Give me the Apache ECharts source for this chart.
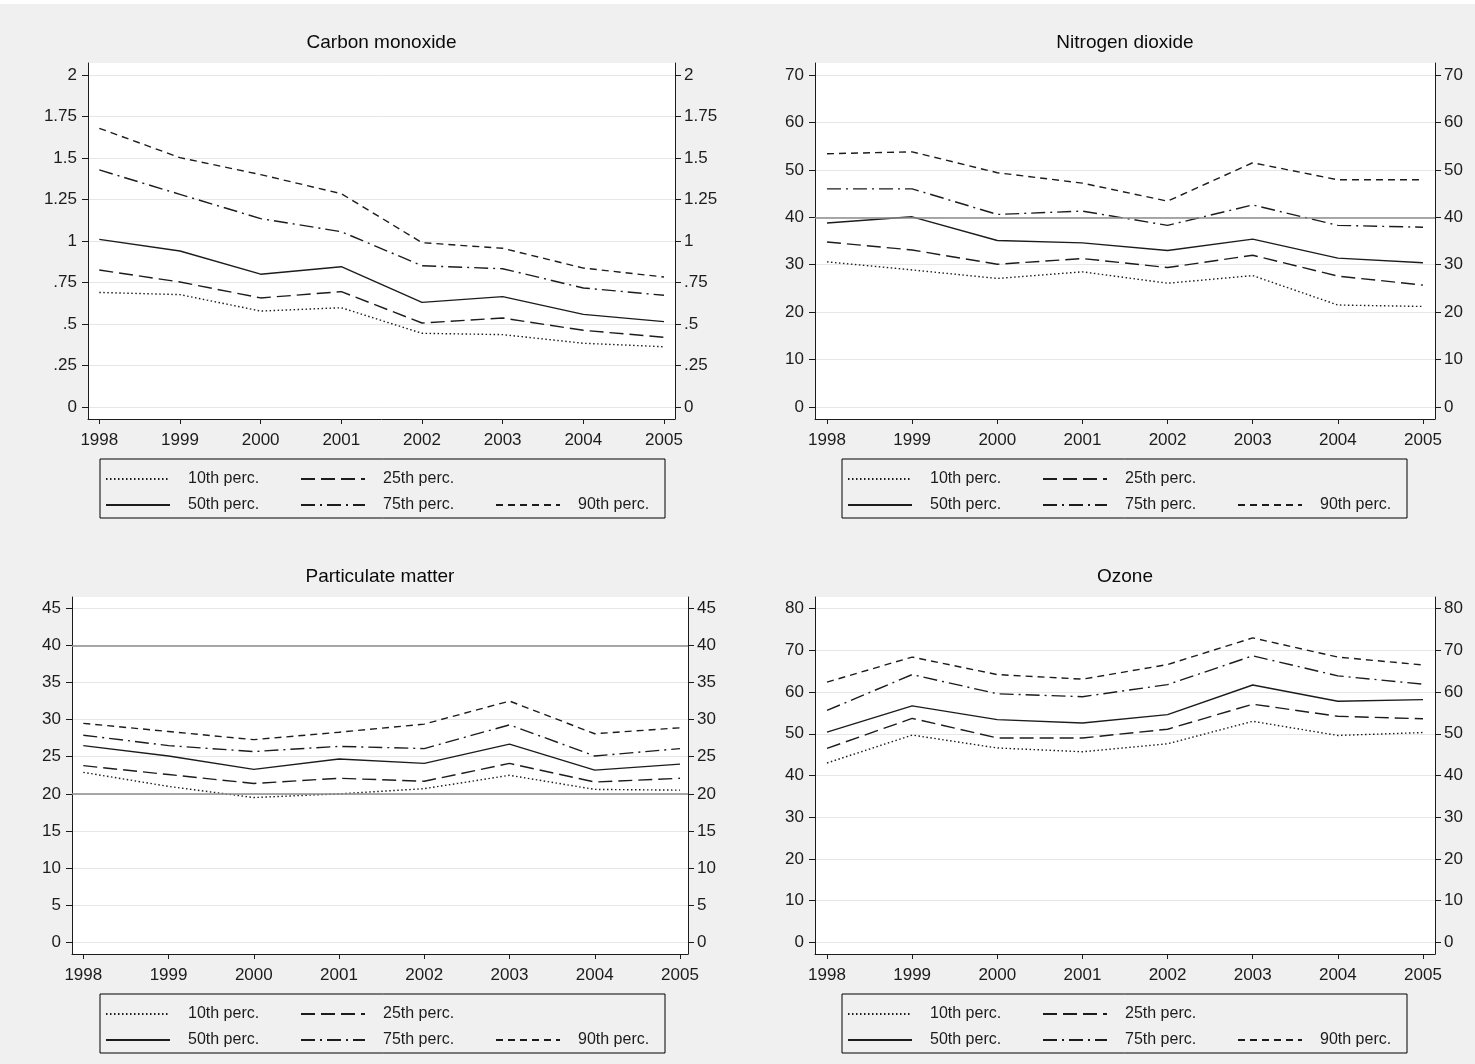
<!DOCTYPE html>
<html><head><meta charset="utf-8">
<script src="https://cdn.jsdelivr.net/npm/echarts@6/dist/echarts.min.js"></script>
<style>html,body{margin:0;padding:0;background:#f0f0f0;}#c{width:1475px;height:1064px;}</style>
</head><body><div id="c"></div>
<script>
// ---------- DATA ----------
const years = [1998, 1999, 2000, 2001, 2002, 2003, 2004, 2005];
const percNames = ['10th perc.', '25th perc.', '50th perc.', '75th perc.', '90th perc.'];

const coTitle = 'Carbon monoxide';
const coP10 = [0.69, 0.677, 0.578, 0.598, 0.444, 0.436, 0.384, 0.363];
const coP25 = [0.825, 0.753, 0.657, 0.695, 0.506, 0.536, 0.462, 0.42];
const coP50 = [1.01, 0.94, 0.80, 0.845, 0.63, 0.665, 0.558, 0.514];
const coP75 = [1.428, 1.281, 1.135, 1.056, 0.851, 0.833, 0.717, 0.673];
const coP90 = [1.679, 1.502, 1.40, 1.285, 0.99, 0.956, 0.837, 0.783];
const coTicks = [0, 0.25, 0.5, 0.75, 1, 1.25, 1.5, 1.75, 2];
const coTickLabels = ['0', '.25', '.5', '.75', '1', '1.25', '1.5', '1.75', '2'];
const coRefLines = [];

const no2Title = 'Nitrogen dioxide';
const no2P10 = [30.6, 28.9, 27.1, 28.5, 26.1, 27.7, 21.5, 21.2];
const no2P25 = [34.8, 33.1, 30.1, 31.3, 29.4, 32.0, 27.6, 25.7];
const no2P50 = [38.8, 40.1, 35.1, 34.6, 33.0, 35.4, 31.4, 30.4];
const no2P75 = [46.0, 46.0, 40.6, 41.3, 38.3, 42.6, 38.3, 37.9];
const no2P90 = [53.4, 53.8, 49.4, 47.2, 43.4, 51.5, 47.9, 47.9];
const no2Ticks = [0, 10, 20, 30, 40, 50, 60, 70];
const no2TickLabels = ['0', '10', '20', '30', '40', '50', '60', '70'];
const no2RefLines = [40];

const pmTitle = 'Particulate matter';
const pmP10 = [22.9, 21.0, 19.5, 20.0, 20.7, 22.5, 20.6, 20.5];
const pmP25 = [23.8, 22.6, 21.4, 22.1, 21.7, 24.1, 21.6, 22.1];
const pmP50 = [26.5, 25.1, 23.3, 24.7, 24.1, 26.7, 23.2, 24.0];
const pmP75 = [27.9, 26.5, 25.7, 26.4, 26.1, 29.3, 25.1, 26.1];
const pmP90 = [29.5, 28.4, 27.3, 28.3, 29.4, 32.5, 28.1, 28.9];
const pmTicks = [0, 5, 10, 15, 20, 25, 30, 35, 40, 45];
const pmTickLabels = ['0', '5', '10', '15', '20', '25', '30', '35', '40', '45'];
const pmRefLines = [20, 40];

const o3Title = 'Ozone';
const o3P10 = [43.0, 49.7, 46.6, 45.7, 47.6, 53.0, 49.6, 50.3];
const o3P25 = [46.5, 53.7, 49.0, 49.0, 51.1, 57.1, 54.2, 53.6];
const o3P50 = [50.4, 56.7, 53.4, 52.6, 54.6, 61.7, 57.8, 58.2];
const o3P75 = [55.6, 64.2, 59.6, 58.9, 61.8, 68.7, 63.9, 61.9];
const o3P90 = [62.4, 68.4, 64.2, 63.1, 66.6, 73.0, 68.4, 66.5];
const o3Ticks = [0, 10, 20, 30, 40, 50, 60, 70, 80];
const o3TickLabels = ['0', '10', '20', '30', '40', '50', '60', '70', '80'];
const o3RefLines = [];

// ---------- STYLE / LAYOUT ----------
const FONT = '"Liberation Sans", Arial, sans-serif';
const INK = '#1c1c1c';
const dashes = [[1.5, 2.5], [14, 6], 'solid', [14, 5, 2, 5], [7, 5]];

const panels = [
  {title: coTitle, series: [coP10, coP25, coP50, coP75, coP90], ticks: coTicks, labels: coTickLabels, refs: coRefLines,
   left: 88, top: 63, width: 587, height: 356, xPad: [11.3, 11], yPad: [12, 12], legendLeft: 100},
  {title: no2Title, series: [no2P10, no2P25, no2P50, no2P75, no2P90], ticks: no2Ticks, labels: no2TickLabels, refs: no2RefLines,
   left: 815, top: 63, width: 620, height: 356, xPad: [12, 12], yPad: [12, 12], legendLeft: 842},
  {title: pmTitle, series: [pmP10, pmP25, pmP50, pmP75, pmP90], ticks: pmTicks, labels: pmTickLabels, refs: pmRefLines,
   left: 72, top: 597, width: 616, height: 357, xPad: [11.3, 8], yPad: [11.7, 11.3], legendLeft: 100},
  {title: o3Title, series: [o3P10, o3P25, o3P50, o3P75, o3P90], ticks: o3Ticks, labels: o3TickLabels, refs: o3RefLines,
   left: 815, top: 597, width: 620, height: 357, xPad: [12, 12], yPad: [11.7, 11.7], legendLeft: 842}
];

function padRange(lo, hi, span, padLo, padHi) {
  const unit = (hi - lo) / (span - padLo - padHi);
  return [lo - padLo * unit, hi + padHi * unit];
}

const option = {
  backgroundColor: '#f0f0f0',
  animation: false,
  textStyle: {fontFamily: FONT},
  title: [], legend: [], grid: [], xAxis: [], yAxis: [], series: [],
  graphic: [{type: 'rect', left: 0, top: 0, shape: {width: 1475, height: 4}, style: {fill: '#ffffff'}, silent: true}]
};

panels.forEach((p, i) => {
  const xr = padRange(years[0], years[years.length - 1], p.width, p.xPad[0], p.xPad[1]);
  const tLo = p.ticks[0], tHi = p.ticks[p.ticks.length - 1];
  const yr = padRange(tLo, tHi, p.height, p.yPad[0], p.yPad[1]);
  const fmtY = v => { const k = p.ticks.indexOf(v); return k >= 0 ? p.labels[k] : String(v); };

  option.grid.push({left: p.left, top: p.top, width: p.width, height: p.height,
    show: true, backgroundColor: '#ffffff', borderWidth: 0, containLabel: false});

  option.title.push({text: p.title, left: p.left + p.width / 2, top: p.top - 30, textAlign: 'center', padding: 0,
    textStyle: {fontFamily: FONT, fontSize: 19, fontWeight: 'normal', color: '#0a0a0a'}});

  option.xAxis.push({type: 'value', gridIndex: i, min: xr[0], max: xr[1], position: 'bottom',
    axisLine: {show: true, onZero: false, lineStyle: {color: INK, width: 1}},
    axisTick: {show: true, inside: false, length: 5, customValues: years, lineStyle: {color: INK}},
    axisLabel: {show: true, customValues: years, margin: 13, fontSize: 17, color: INK, fontFamily: FONT, formatter: v => String(v)},
    splitLine: {show: false}});

  const yBase = {type: 'value', gridIndex: i, min: yr[0], max: yr[1],
    axisLine: {show: true, onZero: false, lineStyle: {color: INK, width: 1}},
    axisTick: {show: true, inside: false, length: 6, customValues: p.ticks, lineStyle: {color: INK}},
    axisLabel: {show: true, customValues: p.ticks, fontSize: 17, color: INK, fontFamily: FONT, formatter: fmtY}};
  option.yAxis.push(Object.assign({}, yBase, {position: 'left',
    axisLabel: Object.assign({}, yBase.axisLabel, {margin: 11}),
    splitLine: {show: true, lineStyle: {color: '#e6e6e6', width: 1}}}));
  option.yAxis.push(Object.assign({}, yBase, {position: 'right',
    axisLabel: Object.assign({}, yBase.axisLabel, {margin: 9}),
    splitLine: {show: false}}));

  // reference lines
  if (p.refs.length) {
    option.series.push({type: 'line', name: 'ref' + i, xAxisIndex: i, yAxisIndex: 2 * i, data: [], silent: true,
      markLine: {silent: true, symbol: 'none', label: {show: false},
        lineStyle: {color: '#8c8c8c', width: 1.5, type: 'solid'},
        data: p.refs.map(v => ({yAxis: v}))}});
  }

  p.series.forEach((vals, k) => {
    option.series.push({type: 'line', name: percNames[k], xAxisIndex: i, yAxisIndex: 2 * i,
      data: years.map((y, j) => [y, vals[j]]), symbol: 'none', showSymbol: false, silent: true,
      itemStyle: {color: INK},
      lineStyle: {color: INK, width: 1.4, type: dashes[k]}, z: 3});
  });

  const ts = {fontSize: 16, color: INK, fontFamily: FONT, lineHeight: 26, padding: [0, 0, 0, 13], width: 112};
  const tsLast = Object.assign({}, ts, {width: 75});
  option.legend.push({left: p.legendLeft, top: p.top + p.height + 40, orient: 'horizontal',
    selectedMode: false, borderColor: '#000', borderWidth: 1, padding: [7, 12, 0, 5],
    itemWidth: 64, itemHeight: 14, itemGap: 0,
    itemStyle: {color: 'transparent', borderColor: 'transparent', borderWidth: 0, opacity: 0},
    textStyle: ts,
    data: [
      {name: percNames[0]}, {name: percNames[1], textStyle: tsLast}, '',
      {name: percNames[2]}, {name: percNames[3]}, {name: percNames[4], textStyle: tsLast}
    ]});
});

const chart = echarts.init(document.getElementById('c'), null, {renderer: 'canvas'});
chart.setOption(option);
</script>
</body></html>
